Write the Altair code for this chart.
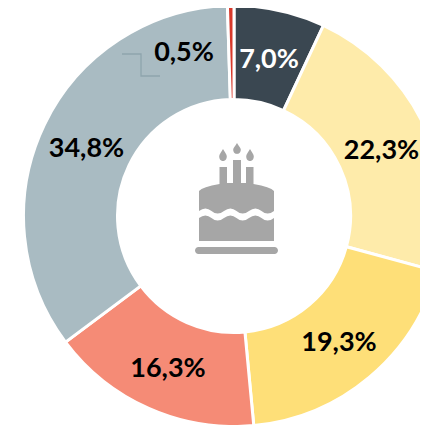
import altair as alt
import pandas as pd

shares = [7.0, 22.3, 19.3, 16.3, 34.8, 0.5]
labels = ["7,0%", "22,3%", "19,3%", "16,3%", "34,8%", "0,5%"]
colours = ["#3a4751", "#feebaa", "#fedf78", "#f58b76", "#a9bbc2", "#d8392b"]

df = pd.DataFrame({"share": shares, "label": labels, "order": range(len(shares))})
one = pd.DataFrame({"k": [0]})

CX, CY = 226, 208
arc = alt.Chart(df).mark_arc(
    innerRadius=116.5, outerRadius=210.5, stroke="#ffffff", strokeWidth=3
).encode(
    theta=alt.Theta("share:Q", stack=True),
    order=alt.Order("order:Q"),
    color=alt.Color("label:N", scale=alt.Scale(domain=labels, range=colours), legend=None),
    x=alt.value(CX),
    y=alt.value(CY),
)

def path_mark(shape, x, y, colour, filled=True, sw=0):
    kw = dict(fill=colour, strokeWidth=0) if filled else dict(stroke=colour, strokeWidth=sw, fill="transparent")
    return alt.Chart(one).mark_point(shape=shape, size=4, opacity=1, filled=filled, **kw).encode(
        x=alt.value(x), y=alt.value(y)
    )

def flame(x, top, bottom):
    m = top + (bottom - top) * 0.6
    return (f"M{x} {top}C{x+1.5} {top+3} {x+3.8} {m-2} {x+3.8} {m}"
            f"C{x+3.8} {bottom-1} {x+1.5} {bottom} {x} {bottom}"
            f"C{x-1.5} {bottom} {x-3.8} {bottom-1} {x-3.8} {m}"
            f"C{x-3.8} {m-2} {x-1.5} {top+3} {x} {top}Z")

wave = lambda b: (f"Q31 {b+5} 25 {b}Q19 {b-5} 12.5 {b}Q6 {b+5} 0 {b}"
                  f"Q-6 {b-5} -12.5 {b}Q-19 {b+5} -25 {b}Q-31 {b-5} -37.5 {b}")
cake = (
    "M-37.5 -9Q-34 -13 -17 -16V-33H-9.5V-17H-3.5V-40H4.5V-17H9.5V-33H17V-16"
    "Q34 -13 37.5 -9L37.5 11" + wave(11) + "Z"
    "M37.5 18L37.5 41H-37.5L-37.5 18Q-31 13 -25 18Q-19 23 -12.5 18Q-6 13 0 18Q6 23 12.5 18Q19 13 25 18Q31 23 37.5 18Z"
    "M-38 47H38A3.5 3.5 0 0 1 38 54H-38A3.5 3.5 0 0 1 -38 47Z"
    + flame(-13.5, -51, -39) + flame(0.5, -57, -46) + flame(13.5, -51, -39)
)
icon = path_mark(cake, 228.5, 192, "#a6a6a6")

leader = path_mark("M-19 -11H0V11H19", 133, 57, "#8ea5ad", filled=False, sw=1.3)

def text(label, x, y, colour="#000000"):
    return alt.Chart(one).mark_text(
        text=label, font="Lato", fontWeight="bold", fontSize=27, color=colour,
        align="center", baseline="middle",
    ).encode(x=alt.value(x), y=alt.value(y))

texts = [
    text(labels[0], 261, 52, "#ffffff"),
    text(labels[1], 373.5, 143),
    text(labels[2], 331, 335),
    text(labels[3], 160, 361),
    text(labels[4], 78.5, 141),
    text(labels[5], 176, 45),
]

chart = alt.layer(arc, leader, icon, *texts).properties(
    width=412, height=417, padding=0, autosize=alt.AutoSizeParams(type="none")
).configure_view(stroke=None)

chart.save("out.html", embed_options={"renderer": "svg", "actions": False})
